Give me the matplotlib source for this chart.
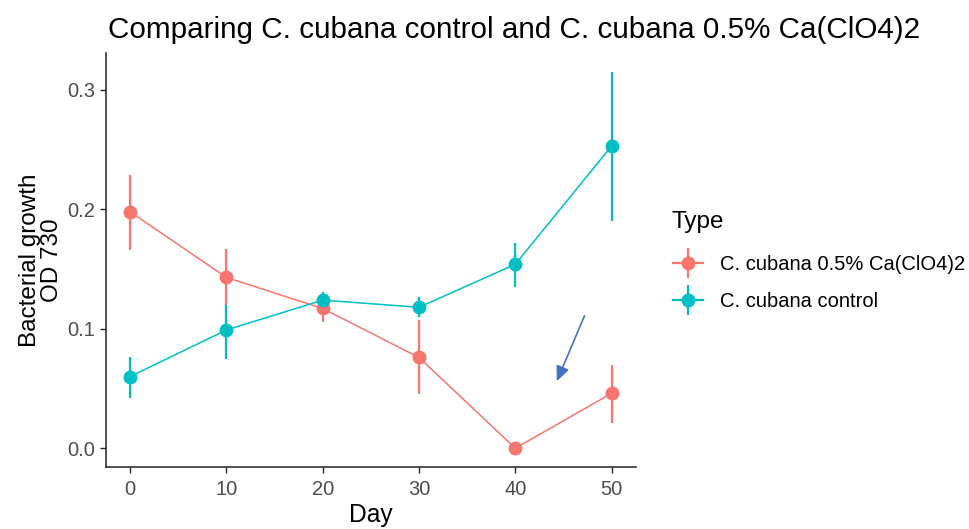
import matplotlib

matplotlib.use("Agg")
import matplotlib.pyplot as plt
from matplotlib.lines import Line2D

DAYS = [0, 10, 20, 30, 40, 50]

SERIES = ["C. cubana 0.5% Ca(ClO4)2", "C. cubana control"]
COLORS = ["#F8766D", "#00BFC4"]

# mean, lower and upper of each point range
PERC_MEAN = [0.198, 0.143, 0.117, 0.076, 0.000, 0.046]
PERC_LOW = [0.166, 0.120, 0.106, 0.045, 0.000, 0.021]
PERC_HIGH = [0.229, 0.167, 0.122, 0.107, 0.000, 0.070]

CTRL_MEAN = [0.060, 0.099, 0.124, 0.118, 0.154, 0.253]
CTRL_LOW = [0.042, 0.075, 0.117, 0.110, 0.135, 0.190]
CTRL_HIGH = [0.076, 0.120, 0.131, 0.127, 0.172, 0.315]

ARROW_TAIL = (47.3, 0.113)
ARROW_HEAD = (44.2, 0.054)

GREY = "#4D4D4D"
plt.rcParams["font.family"] = ["Liberation Sans", "DejaVu Sans"]

fig = plt.figure(figsize=(9.7, 5.29), dpi=100)
ax = fig.add_axes([0.1093, 0.117, 0.546, 0.783])

handles = []
for name, color, mean, low, high in [
    (SERIES[0], COLORS[0], PERC_MEAN, PERC_LOW, PERC_HIGH),
    (SERIES[1], COLORS[1], CTRL_MEAN, CTRL_LOW, CTRL_HIGH),
]:
    ax.plot(DAYS, mean, color=color, lw=1.1, zorder=2)
    ax.vlines(DAYS, low, high, color=color, lw=1.6, zorder=3)
    ax.plot(DAYS, mean, "o", color=color, ms=9, zorder=4)
    handles.append(
        (
            Line2D([], [], color=color, lw=1.6),
            Line2D([], [], color=color, marker="|", ms=21, mew=1.6, ls="none"),
            Line2D([], [], color=color, marker="o", ms=9, ls="none"),
        )
    )

ax.annotate(
    "",
    xy=ARROW_HEAD,
    xytext=ARROW_TAIL,
    arrowprops=dict(arrowstyle="-|>,head_length=0.9,head_width=0.4", color="#4472C4", lw=1.2),
)

ax.set_xlim(-2.5, 52.5)
ax.set_ylim(-0.0158, 0.331)
ax.set_xticks([0, 10, 20, 30, 40, 50])
ax.set_yticks([0.0, 0.1, 0.2, 0.3])
ax.set_yticklabels(["0.0", "0.1", "0.2", "0.3"])
for side in ("top", "right"):
    ax.spines[side].set_visible(False)
for side in ("left", "bottom"):
    ax.spines[side].set_color("#222222")
    ax.spines[side].set_linewidth(1.1)
ax.tick_params(colors="#222222", labelcolor=GREY, labelsize=14.5, length=4.5, width=1, pad=3)
ax.tick_params(axis="x", pad=5)

ax.set_xlabel("Day", fontsize=17.7, labelpad=3)
ax.set_ylabel("Bacterial growth\nOD 730", fontsize=17.5, labelpad=3, linespacing=1.05)
fig.text(0.111, 0.928, "Comparing C. cubana control and C. cubana 0.5% Ca(ClO4)2", fontsize=21.3)

# legend title placed on its own, entries below it
fig.text(0.6925, 1 - 222 / 529, "Type", fontsize=17.5, va="center")
fig.legend(
    handles,
    SERIES,
    loc="upper left",
    bbox_to_anchor=(0.675, 0.552),
    frameon=False,
    fontsize=14.5,
    handlelength=1.5,
    handletextpad=0.85,
    labelspacing=0.9,
)

fig.savefig("out.png", dpi=100)
